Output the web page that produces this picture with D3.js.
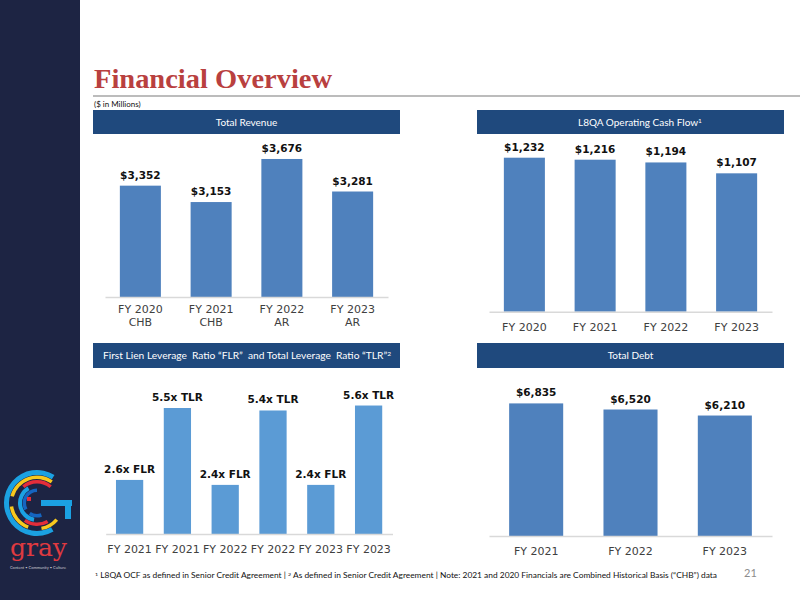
<!DOCTYPE html>
<html>
<head>
<meta charset="utf-8">
<script src="https://cdn.jsdelivr.net/npm/d3@7"></script>
<style>
  body { margin: 0; background: #fff; }
  svg { display: block; }
  .axis path.domain { stroke: #d9d9d9; stroke-width: 1.5; }
  .axis text { font-family: "DejaVu Sans", Verdana, sans-serif; font-size: 11px; fill: #404040; }
  .val { font-family: "DejaVu Sans", Verdana, sans-serif; font-size: 10.5px; font-weight: bold; fill: #111; text-anchor: middle; }
  .hdr { font-family: Lato, "Open Sans", sans-serif; font-size: 10px; fill: #fff; text-anchor: middle; white-space: pre; }
</style>
</head>
<body>
<div class="chart"></div>
<script>
// values
var revenueYears = ["FY 2020", "FY 2021", "FY 2022", "FY 2023"];
var revenueBasis = ["CHB", "CHB", "AR", "AR"];
var revenueValues = [3352, 3153, 3676, 3281];

var ocfYears = ["FY 2020", "FY 2021", "FY 2022", "FY 2023"];
var ocfValues = [1232, 1216, 1194, 1107];

var leverageYears = ["FY 2021", "FY 2021", "FY 2022", "FY 2022", "FY 2023", "FY 2023"];
var leverageTypes = ["FLR", "TLR", "FLR", "TLR", "FLR", "TLR"];
var leverageValues = [2.6, 5.5, 2.4, 5.4, 2.4, 5.6];

var debtYears = ["FY 2021", "FY 2022", "FY 2023"];
var debtValues = [6835, 6520, 6210];

var money = d3.format("$,");

var svg = d3.select(".chart").append("svg")
  .attr("width", 800)
  .attr("height", 600);

// left sidebar + logo
svg.append("rect").attr("x", 0).attr("y", 0).attr("width", 80).attr("height", 600).attr("fill", "#1d2443");

function drawLogo(g) {
  var arc = d3.arc();
  var rad = Math.PI / 180;
  var rings = [
    { r0: 28, r1: 33, a0: 150, a1: 392, c: "#1ba1e2" },
    { r0: 24, r1: 27.5, a0: 285, a1: 395, c: "#f7c81e" },
    { r0: 24, r1: 27.5, a0: 200, a1: 262, c: "#f7c81e" },
    { r0: 24, r1: 27.5, a0: 130, a1: 170, c: "#f7c81e" },
    { r0: 19.5, r1: 23, a0: 320, a1: 400, c: "#e42d3a" },
    { r0: 19.5, r1: 23, a0: 150, a1: 215, c: "#e42d3a" },
    { r0: 15, r1: 19, a0: 190, a1: 330, c: "#1ba1e2" },
    { r0: 11, r1: 14.5, a0: 240, a1: 360, c: "#1565c0" },
    { r0: 11, r1: 14.5, a0: 160, a1: 215, c: "#1565c0" }
  ];
  g.selectAll("path.ring")
    .data(rings)
    .enter().append("path")
    .attr("class", "ring")
    .attr("d", d => arc({ innerRadius: d.r0, outerRadius: d.r1, startAngle: d.a0 * rad, endAngle: d.a1 * rad }))
    .attr("fill", d => d.c);
  // crossbar of the G
  g.append("rect").attr("x", 4).attr("y", -3).attr("width", 31).attr("height", 6).attr("fill", "#1ba1e2");
  g.append("rect").attr("x", 28).attr("y", -3).attr("width", 6).attr("height", 19).attr("fill", "#1ba1e2");
  g.append("rect").attr("x", -10).attr("y", -6).attr("width", 4).attr("height", 4).attr("fill", "#e42d3a");
}
drawLogo(svg.append("g").attr("transform", "translate(37,503)"));

svg.append("text")
  .attr("x", 10).attr("y", 556)
  .attr("textLength", 57).attr("lengthAdjust", "spacingAndGlyphs")
  .style("font-family", "'DejaVu Serif', serif").style("font-size", "25px")
  .attr("fill", "#e03a40")
  .text("gray");
svg.append("text")
  .attr("x", 10).attr("y", 569)
  .attr("textLength", 56).attr("lengthAdjust", "spacingAndGlyphs")
  .style("font-family", "Lato, sans-serif").style("font-size", "4px")
  .attr("fill", "#c8c8d0")
  .text("Content • Community • Culture");

// title
svg.append("text")
  .attr("x", 94).attr("y", 88)
  .attr("textLength", 238).attr("lengthAdjust", "spacingAndGlyphs")
  .style("font-family", "'Liberation Serif', 'DejaVu Serif', serif")
  .style("font-size", "28px").style("font-weight", "bold")
  .attr("fill", "#b9403f")
  .text("Financial Overview");
svg.append("line")
  .attr("x1", 93).attr("x2", 800).attr("y1", 96).attr("y2", 96)
  .attr("stroke", "#a6a6a6").attr("stroke-width", 1.5);
svg.append("text")
  .attr("x", 94).attr("y", 107)
  .style("font-family", "Lato, sans-serif").style("font-size", "8px")
  .attr("fill", "#111")
  .text("($ in Millions)");

function header(x, y, w, h, label, sup, tx, tlen) {
  svg.append("rect").attr("x", x).attr("y", y).attr("width", w).attr("height", h).attr("fill", "#1f497d");
  var t = svg.append("text").attr("class", "hdr")
    .attr("x", tx == null ? x + w / 2 : tx).attr("y", y + h / 2 + 3.5);
  if (tlen) t.attr("textLength", tlen).attr("lengthAdjust", "spacingAndGlyphs");
  t.append("tspan").text(label);
  if (sup) t.append("tspan").attr("dy", -3).style("font-size", "6.5px").text(sup);
}

header(93, 110, 307, 24, "Total Revenue");
header(477, 110, 307, 24, "L8QA Operating Cash Flow", "1", 640);
header(93, 343, 307, 25, "First Lien Leverage  Ratio “FLR”  and Total Leverage  Ratio “TLR”", "2", 247, 288);
header(477, 343, 307, 25, "Total Debt");

// generic bar panel
function barPanel(opts) {
  var idx = opts.values.map((d, i) => i);
  var x = d3.scaleBand()
    .domain(idx)
    .range(opts.xRange)
    .paddingInner(opts.pad)
    .paddingOuter(opts.pad / 2);
  var y = d3.scaleLinear()
    .domain(opts.yDomain)
    .range(opts.yRange);

  var g = svg.append("g");

  g.selectAll(".bar")
    .data(opts.values)
    .enter().append("rect")
    .attr("class", "bar")
    .attr("x", (d, i) => x(i))
    .attr("y", d => y(d))
    .attr("width", x.bandwidth())
    .attr("height", d => y(opts.yDomain[0]) - y(d))
    .attr("fill", opts.color);

  g.selectAll(".val")
    .data(opts.values)
    .enter().append("text")
    .attr("class", "val")
    .attr("x", (d, i) => x(i) + x.bandwidth() / 2)
    .attr("y", d => y(d) - 7)
    .text((d, i) => opts.label(d, i));

  var axis = g.append("g")
    .attr("class", "axis")
    .attr("transform", `translate(0, ${opts.yRange[0]})`)
    .call(d3.axisBottom(x).tickSize(0).tickPadding(11.5).tickFormat(i => opts.cats[i]));
  axis.selectAll(".tick line").remove();
  return axis;
}

var revAxis = barPanel({
  values: revenueValues, cats: revenueYears,
  xRange: [105, 388], pad: 0.42,
  yDomain: [2000, 4000], yRange: [297, 132.3],
  color: "#4f81bd", label: d => money(d)
});
revAxis.selectAll(".tick text")
  .attr("y", 8.5)
  .each(function(d) {
    var t = d3.select(this);
    t.text(null);
    t.append("tspan").attr("x", 0).text(revenueYears[d]);
    t.append("tspan").attr("x", 0).attr("dy", 13).text(revenueBasis[d]);
  });

barPanel({
  values: ocfValues, cats: ocfYears,
  xRange: [489, 772], pad: 0.42,
  yDomain: [0, 1400], yRange: [311.7, 136.7],
  color: "#4f81bd", label: d => money(d)
});

barPanel({
  values: leverageValues, cats: leverageYears,
  xRange: [105.7, 392.5], pad: 0.43,
  yDomain: [0.42, 6], yRange: [534, 395.6],
  color: "#5b9bd5", label: (d, i) => d.toFixed(1) + "x " + leverageTypes[i]
});

barPanel({
  values: debtValues, cats: debtYears,
  xRange: [489, 772], pad: 0.427,
  yDomain: [0, 7000], yRange: [536, 400.2],
  color: "#4f81bd", label: d => money(d)
});

// footnote + page number
var foot = svg.append("text")
  .attr("x", 95).attr("y", 578)
  .attr("textLength", 622).attr("lengthAdjust", "spacingAndGlyphs")
  .style("font-family", "Lato, sans-serif").style("font-size", "7px")
  .attr("fill", "#111");
foot.append("tspan").attr("dy", -2).style("font-size", "4.5px").text("1");
foot.append("tspan").attr("dy", 2).text(" L8QA OCF as defined in Senior Credit Agreement | ");
foot.append("tspan").attr("dy", -2).style("font-size", "4.5px").text("2");
foot.append("tspan").attr("dy", 2).text(" As defined in Senior Credit Agreement | Note: 2021 and 2020 Financials are Combined Historical Basis (“CHB”) data");

svg.append("text")
  .attr("x", 744).attr("y", 577)
  .style("font-family", "Lato, sans-serif").style("font-size", "11px")
  .attr("fill", "#8c8c8c")
  .text("21");
</script>
</body>
</html>
